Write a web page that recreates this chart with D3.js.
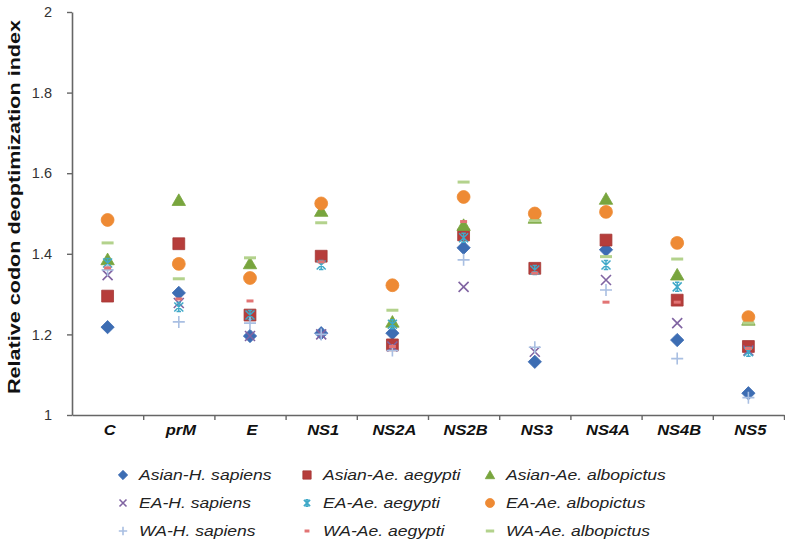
<!DOCTYPE html>
<html><head><meta charset="utf-8">
<script src="https://cdn.jsdelivr.net/npm/d3@7"></script>
<style>body{margin:0;background:#fff}</style></head><body>
<script>
const categories = ["C","prM","E","NS1","NS2A","NS2B","NS3","NS4A","NS4B","NS5"];
const seriesNames = ["Asian-H. sapiens","Asian-Ae. aegypti","Asian-Ae. albopictus",
  "EA-H. sapiens","EA-Ae. aegypti","EA-Ae. albopictus",
  "WA-H. sapiens","WA-Ae. aegypti","WA-Ae. albopictus"];
const asianHsapiens     = [1.218,1.303,1.196,1.203,1.203,1.415,1.132,1.410,1.186,1.054];
const asianAeAegypti    = [1.295,1.425,1.248,1.394,1.174,1.447,1.364,1.434,1.285,1.170];
const asianAeAlbopictus = [1.385,1.532,1.375,1.505,1.230,1.470,1.488,1.535,1.347,1.235];
const eaHsapiens        = [1.347,1.278,1.196,1.200,1.170,1.318,1.157,1.335,1.228,1.160];
const eaAeAegypti       = [1.377,1.268,1.248,1.372,1.225,1.440,1.360,1.372,1.318,1.157];
const eaAeAlbopictus    = [1.484,1.375,1.340,1.525,1.322,1.541,1.500,1.504,1.427,1.243];
const waHsapiens        = [1.360,1.231,1.228,1.200,1.160,1.385,1.168,1.310,1.140,1.043];
const waAeAegypti       = [1.365,1.288,1.283,1.380,1.170,1.480,1.352,1.280,1.280,1.165];
const waAeAlbopictus    = [1.427,1.338,1.390,1.477,1.260,1.578,1.482,1.393,1.387,1.228];
const yTicks = [1,1.2,1.4,1.6,1.8,2];
const yTitle = "Relative codon deoptimization index";

const seriesValues = [asianHsapiens,asianAeAegypti,asianAeAlbopictus,eaHsapiens,eaAeAegypti,
  eaAeAlbopictus,waHsapiens,waAeAegypti,waAeAlbopictus];
const colors = ["#3d6db3","#b63d3b","#78a53e","#8064a2","#3fa9c8","#ee8a34","#a9bfe2","#e27474","#b3d28c"];
const shapes = ["diamond","square","triangle","x","star","circle","plus","dashS","dashL"];

const W = 785, H = 545;
const svg = d3.select("body").append("svg").attr("width",W).attr("height",H)
  .style("font-family","'Liberation Sans', Arial, sans-serif");

const x0 = 72, x1 = 784, yTop = 12, yBot = 415;
const x = d3.scaleBand().domain(categories).range([x0,x1]).padding(0);
const y = d3.scaleLinear().domain([1,2]).range([yBot,yTop]);
const xTickScale = d3.scaleLinear().domain([0,categories.length]).range([x0,x1]);
const axisColor = "#666";

// y axis
const ya = svg.append("g").attr("transform",`translate(${x0},0)`)
  .call(d3.axisLeft(y).tickValues(yTicks).tickSize(5).tickSizeOuter(0).tickPadding(15)
    .tickFormat(d3.format("~g")));
ya.select(".domain").attr("stroke",axisColor).attr("stroke-width",1.6);
ya.selectAll(".tick line").attr("stroke",axisColor).attr("stroke-width",1.4);
ya.selectAll(".tick text").attr("font-size",14.5).attr("fill","#333").attr("font-family","'Liberation Sans', Arial, sans-serif");

// x axis
const xa = svg.append("g").attr("transform",`translate(0,${yBot})`)
  .call(d3.axisBottom(xTickScale).tickValues(d3.range(1,categories.length+1)).tickSize(5).tickSizeOuter(0).tickFormat(""));
xa.select(".domain").attr("stroke",axisColor).attr("stroke-width",1.6);
xa.selectAll(".tick line").attr("stroke",axisColor).attr("stroke-width",1.4);

svg.append("g").selectAll("g").data(categories).join("g")
  .attr("transform",d=>`translate(${x(d)+x.bandwidth()/2+2},435) scale(1.18,1)`)
  .append("text").attr("text-anchor","middle").attr("font-size",14).attr("font-weight","bold")
  .attr("font-style","italic").attr("fill","#111").text(d=>d);

// y title
svg.append("text").attr("transform","translate(20,207) rotate(-90)")
  .attr("text-anchor","middle").attr("font-size",16).attr("font-weight","bold").attr("fill","#111")
  .attr("textLength",374).attr("lengthAdjust","spacingAndGlyphs").text(yTitle);

function drawMarker(g, shape, color, s){
  if(shape==="diamond"){
    g.append("path").attr("d",d3.symbol(d3.symbolSquare, 88*s*s)()).attr("transform","rotate(45)")
      .attr("fill",color).attr("stroke",color).attr("stroke-width",0.8);
  } else if(shape==="square"){
    g.append("path").attr("d",d3.symbol(d3.symbolSquare, 140*s*s)()).attr("fill",color).attr("stroke",d3.color(color).darker(0.3)).attr("stroke-width",0.8);
  } else if(shape==="triangle"){
    g.append("path").attr("d",d3.symbol(d3.symbolTriangle, 78*s*s)()).attr("transform","translate(0,1)").attr("fill",color).attr("stroke",color).attr("stroke-width",0.8);
  } else if(shape==="circle"){
    g.append("path").attr("d",d3.symbol(d3.symbolCircle, 130*s*s)()).attr("fill",color).attr("stroke",color).attr("stroke-width",0.8);
  } else if(shape==="x"){
    const r=5*s;
    g.append("path").attr("d",`M${-r},${-r}L${r},${r}M${-r},${r}L${r},${-r}`).attr("stroke",color).attr("stroke-width",1.6).attr("fill","none");
  } else if(shape==="star"){
    const r=4.5*s;
    g.append("path").attr("d",`M${-r},${-r}L${r},${r}M${-r},${r}L${r},${-r}M0,${-r}L0,${r}M${-r*0.5},${-r}L${r*0.5},${-r}M${-r*0.5},${r}L${r*0.5},${r}`)
      .attr("stroke",color).attr("stroke-width",1.5).attr("fill","none");
  } else if(shape==="plus"){
    const r=6*s;
    g.append("path").attr("d",`M${-r},0L${r},0M0,${-r}L0,${r}`).attr("stroke",color).attr("stroke-width",1.6).attr("fill","none");
  } else if(shape==="dashS"){
    const r=3.5*s;
    g.append("path").attr("d",`M${-r},0L${r},0`).attr("stroke",color).attr("stroke-width",3).attr("fill","none");
  } else if(shape==="dashL"){
    const r=6*s;
    g.append("path").attr("d",`M${-r},0L${r},0`).attr("stroke",color).attr("stroke-width",3).attr("fill","none");
  }
}

// points
const plot = svg.append("g");
seriesValues.forEach((vals,si)=>{
  const sg = plot.append("g");
  vals.forEach((v,ci)=>{
    const g = sg.append("g").attr("transform",`translate(${x(categories[ci])+x.bandwidth()/2},${y(v)})`);
    drawMarker(g, shapes[si], colors[si], 1);
  });
});

// legend
const legX = [123,307,490], legY = [475,503,531];
seriesNames.forEach((name,i)=>{
  const col = i%3, row = Math.floor(i/3);
  const g = svg.append("g").attr("transform",`translate(${legX[col]},${legY[row]})`);
  drawMarker(g, shapes[i], colors[i], 0.7);
  g.append("g").attr("transform","translate(16,5) scale(1.17,1)")
    .append("text").attr("font-size",15).attr("font-style","italic").attr("fill","#222").text(name);
});
</script>
</body></html>
